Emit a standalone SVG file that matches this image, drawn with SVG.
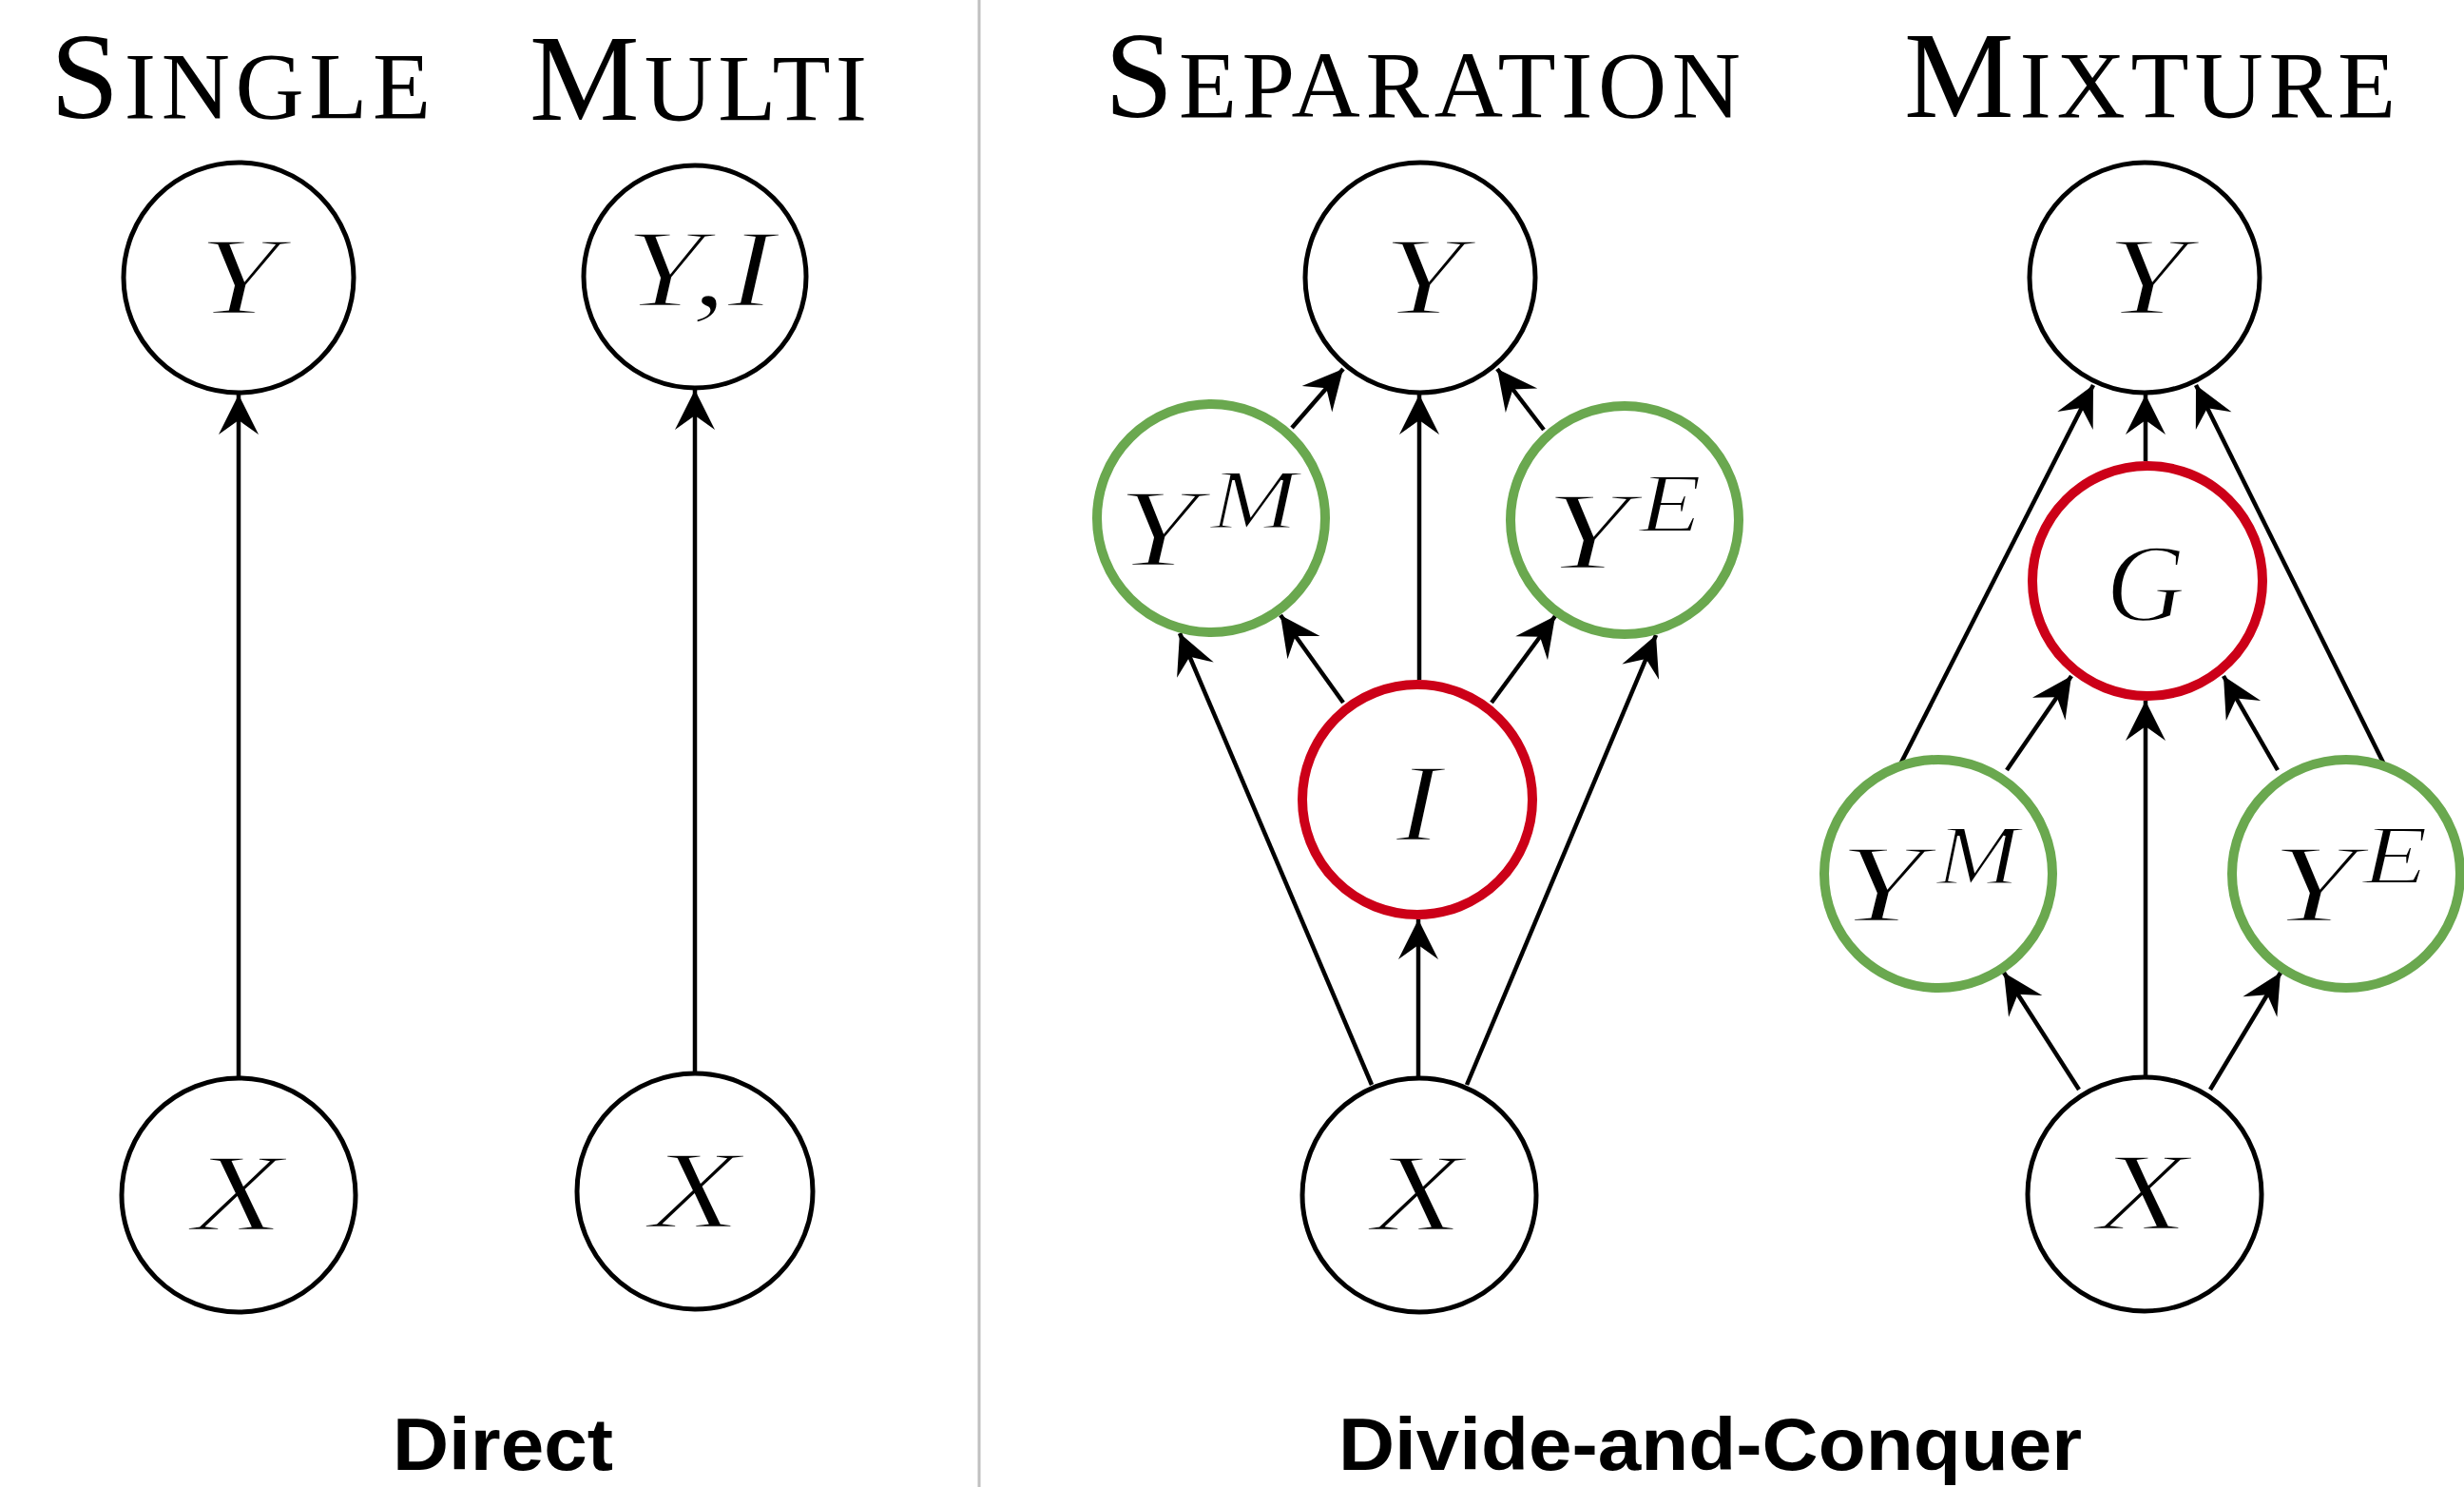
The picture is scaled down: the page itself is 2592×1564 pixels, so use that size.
<svg xmlns="http://www.w3.org/2000/svg" width="2592" height="1564" viewBox="0 0 2592 1564">
<style>
.c{fill:#fff;stroke:#000;stroke-width:5}
.g{fill:#fff;stroke:#6aa84f;stroke-width:10}
.r{fill:#fff;stroke:#cc0018;stroke-width:10}
.m{font-family:"Liberation Serif",serif;font-style:italic;font-size:116px;fill:#000;stroke:#fff;stroke-width:2.5}
.s{font-family:"Liberation Serif",serif;font-style:italic;font-size:88px;fill:#000;stroke:#fff;stroke-width:2}
.t{font-family:"Liberation Serif",serif;fill:#000}
.b{font-family:"Liberation Sans",Arial,sans-serif;font-weight:bold;font-size:78px;fill:#000;text-anchor:middle}
.e{stroke:#000;stroke-width:4.5;fill:none;marker-end:url(#ah)}
</style>
<defs>
<marker id="ah" markerUnits="userSpaceOnUse" viewBox="-44 -23 46 46" refX="0" refY="0" markerWidth="46" markerHeight="46" orient="auto">
<path d="M0,0 L-42,-21 L-27,0 L-42,21 Z" fill="#000"/>
</marker>
</defs>
<rect width="2592" height="1564" fill="#fff"/>
<line x1="1030" y1="0" x2="1030" y2="1564" stroke="#c0c0c0" stroke-width="3"/>

<g id="titles">
<text class="t" x="53" y="124" textLength="400" lengthAdjust="spacing"><tspan font-size="130">S</tspan><tspan font-size="100">INGLE</tspan></text>
<text class="t" x="557" y="126" textLength="355" lengthAdjust="spacing"><tspan font-size="130">M</tspan><tspan font-size="100">ULTI</tspan></text>
<text class="t" x="1162" y="123" textLength="669" lengthAdjust="spacing"><tspan font-size="130">S</tspan><tspan font-size="100">EPARATION</tspan></text>
<text class="t" x="2003" y="123" textLength="517" lengthAdjust="spacing"><tspan font-size="130">M</tspan><tspan font-size="100">IXTURE</tspan></text>
<text class="b" x="529" y="1546" textLength="232" lengthAdjust="spacingAndGlyphs">Direct</text>
<text class="b" x="1799" y="1546" textLength="782" lengthAdjust="spacingAndGlyphs">Divide-and-Conquer</text>
</g>

<g id="connectors">
<line class="e" x1="251" y1="1134" x2="251" y2="415"/>
<line class="e" x1="731" y1="1129" x2="731" y2="410"/>
<line class="e" x1="1492" y1="1134" x2="1492" y2="967"/>
<line class="e" x1="1493" y1="715" x2="1493" y2="415"/>
<line class="e" x1="1443" y1="1141" x2="1241" y2="666"/>
<line class="e" x1="1543" y1="1141" x2="1742" y2="668"/>
<line class="e" x1="1413" y1="739" x2="1347" y2="647"/>
<line class="e" x1="1569" y1="739" x2="1636" y2="648"/>
<line class="e" x1="1359" y1="450" x2="1413" y2="388"/>
<line class="e" x1="1624" y1="452" x2="1575" y2="388"/>
<line class="e" x1="2257" y1="1133" x2="2257" y2="737"/>
<line class="e" x1="2257" y1="485" x2="2257" y2="415"/>
<line class="e" x1="2187" y1="1146" x2="2108" y2="1023"/>
<line class="e" x1="2325" y1="1146" x2="2399" y2="1023"/>
<line class="e" x1="2111" y1="810" x2="2179" y2="711"/>
<line class="e" x1="2396" y1="810" x2="2339" y2="711"/>
<line class="e" x1="2000" y1="802" x2="2202" y2="405"/>
<line class="e" x1="2507" y1="802" x2="2310" y2="405"/>
</g>

<g id="single-Y"><circle class="c" cx="251" cy="292" r="121"/><text class="m" x="208" y="330" textLength="86" lengthAdjust="spacingAndGlyphs">Y</text></g>
<g id="single-X"><circle class="c" cx="251" cy="1257" r="123"/><text class="m" x="202" y="1294" textLength="96" lengthAdjust="spacingAndGlyphs">X</text></g>
<g id="multi-YI"><circle class="c" cx="731" cy="291" r="117"/><text class="m" x="657" y="322" textLength="158" lengthAdjust="spacingAndGlyphs">Y,I</text></g>
<g id="multi-X"><circle class="c" cx="731" cy="1253" r="124"/><text class="m" x="683" y="1291" textLength="96" lengthAdjust="spacingAndGlyphs">X</text></g>

<g id="sep-Y"><circle class="c" cx="1494" cy="292" r="121"/><text class="m" x="1454" y="330" textLength="86" lengthAdjust="spacingAndGlyphs">Y</text></g>
<g id="sep-YM"><circle class="g" cx="1274" cy="545" r="120"/><text class="m" x="1175" y="595" textLength="86" lengthAdjust="spacingAndGlyphs">Y</text><text class="s" x="1273" y="555" textLength="92" lengthAdjust="spacingAndGlyphs">M</text></g>
<g id="sep-YE"><circle class="g" cx="1709" cy="547" r="120"/><text class="m" x="1625" y="598" textLength="90" lengthAdjust="spacingAndGlyphs">Y</text><text class="s" x="1724" y="559" textLength="66" lengthAdjust="spacingAndGlyphs">E</text></g>
<g id="sep-I"><circle class="r" cx="1491" cy="841" r="121"/><text class="m" x="1468" y="884" textLength="48" lengthAdjust="spacingAndGlyphs">I</text></g>
<g id="sep-X"><circle class="c" cx="1493" cy="1257" r="123"/><text class="m" x="1443" y="1294" textLength="96" lengthAdjust="spacingAndGlyphs">X</text></g>

<g id="mix-Y"><circle class="c" cx="2256" cy="292" r="121"/><text class="m" x="2215" y="330" textLength="86" lengthAdjust="spacingAndGlyphs">Y</text></g>
<g id="mix-G"><circle class="r" cx="2259" cy="611" r="121"/><text class="m" x="2215" y="653" textLength="84" lengthAdjust="spacingAndGlyphs">G</text></g>
<g id="mix-YM"><circle class="g" cx="2039" cy="919" r="120"/><text class="m" x="1934" y="969" textLength="90" lengthAdjust="spacingAndGlyphs">Y</text><text class="s" x="2037" y="929" textLength="87" lengthAdjust="spacingAndGlyphs">M</text></g>
<g id="mix-YE"><circle class="g" cx="2468" cy="919" r="120"/><text class="m" x="2389" y="969" textLength="90" lengthAdjust="spacingAndGlyphs">Y</text><text class="s" x="2485" y="929" textLength="69" lengthAdjust="spacingAndGlyphs">E</text></g>
<g id="mix-X"><circle class="c" cx="2256" cy="1256" r="123"/><text class="m" x="2206" y="1293" textLength="96" lengthAdjust="spacingAndGlyphs">X</text></g>
</svg>
